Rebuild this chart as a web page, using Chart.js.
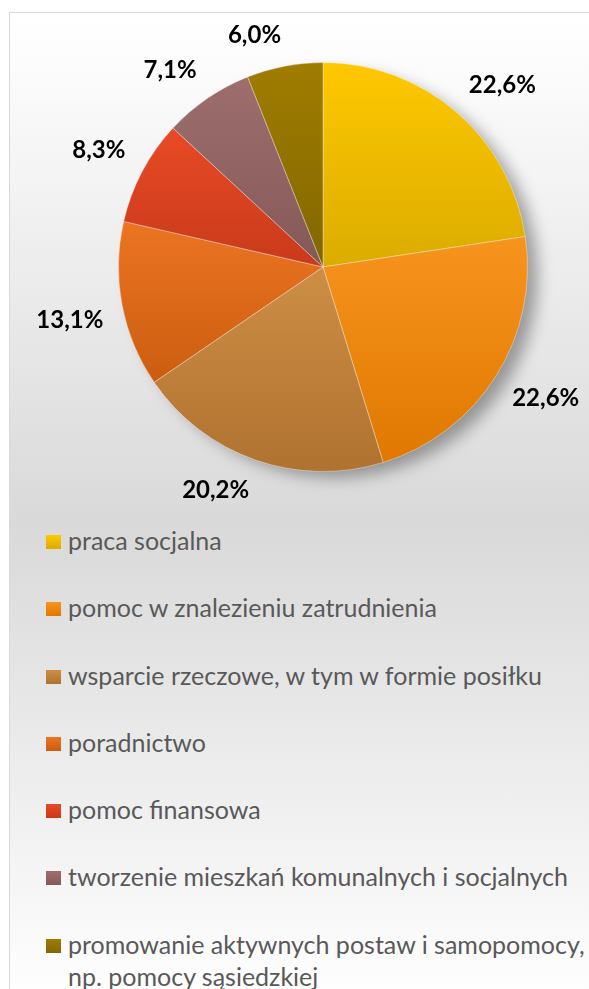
<!DOCTYPE html>
<html>
<head>
<meta charset="utf-8">
<script src="https://cdn.jsdelivr.net/npm/chart.js@4/dist/chart.umd.min.js"></script>
<style>
    html, body { margin: 0; padding: 0; background: #fff; }
    body { width: 589px; height: 989px; position: relative; overflow: hidden; font-family: 'Lato', sans-serif; }
    #frame {
        position: absolute; left: 9px; top: 12px; width: 600px; height: 1000px;
        border-left: 1px solid #d9d9d9; border-top: 1px solid #d9d9d9;
        background: linear-gradient(to bottom, #ffffff 0px, #fdfdfd 40px, #d9d9d9 510px, #ffffff 990px);
    }
    #chart { position: absolute; left: 0; top: 0; }
    #legend { position: absolute; left: 46px; top: 524px; width: 543px; margin: 0; padding: 0; list-style: none; }
    #legend li { position: relative; padding-left: 22px; font-size: 25px; line-height: 32.6px; color: #595959; margin-bottom: 34.7px; }
    #legend .box { position: absolute; left: 0; top: 11px; width: 15px; height: 14px; }
</style>
</head>
<body>
<div id="frame"></div>
<canvas id="chart" width="589" height="520"></canvas>
<ul id="legend"></ul>
<script>
// Data
const categories = [
    'praca socjalna',
    'pomoc w znalezieniu zatrudnienia',
    'wsparcie rzeczowe, w tym w formie posiłku',
    'poradnictwo',
    'pomoc finansowa',
    'tworzenie mieszkań komunalnych i socjalnych',
    'promowanie aktywnych postaw i samopomocy, np. pomocy sąsiedzkiej'
];
const shares = [22.6, 22.6, 20.2, 13.1, 8.3, 7.1, 6.0];
const topColors = ['#ffc800', '#f7941e', '#cd8e45', '#ec7422', '#e84a26', '#9e6e6e', '#a07d00'];
const bottomColors = ['#dbac00', '#e07800', '#b07230', '#cb5d10', '#c93a1a', '#855858', '#826600'];

const formatPercent = (value) => `${value.toFixed(1).replace('.', ',')}%`;

// vertical gradient over each slice's own bounding box
function sliceGradient(context) {
    const i = context.dataIndex;
    const chart = context.chart;
    const area = chart.chartArea;
    if (!area || i === undefined) return topColors[i] || topColors[0];
    const cx = (area.left + area.right) / 2;
    const cy = (area.top + area.bottom) / 2;
    const r = Math.min(area.width, area.height) / 2;
    const total = shares.reduce((a, b) => a + b, 0);
    const before = shares.slice(0, i).reduce((a, b) => a + b, 0);
    const start = -Math.PI / 2 + 2 * Math.PI * before / total;
    const end = start + 2 * Math.PI * shares[i] / total;
    const ys = [cy, cy + r * Math.sin(start), cy + r * Math.sin(end)];
    for (let a = -Math.PI / 2; a <= 3 * Math.PI / 2; a += Math.PI) {
        if (a > start && a < end) ys.push(cy + r * Math.sin(a));
    }
    const y0 = Math.min(...ys), y1 = Math.max(...ys);
    const g = chart.ctx.createLinearGradient(0, y0, 0, y1 + 0.01);
    g.addColorStop(0, topColors[i]);
    g.addColorStop(1, bottomColors[i]);
    return g;
}

// soft shadow behind the pie
const pieShadow = {
    id: 'pieShadow',
    beforeDatasetsDraw(chart) {
        const arc = chart.getDatasetMeta(0).data[0];
        if (!arc) return;
        const c = chart.ctx;
        c.save();
        c.shadowColor = 'rgba(0, 0, 0, 0.35)';
        c.shadowBlur = 16;
        c.shadowOffsetX = 12;
        c.shadowOffsetY = 8;
        c.fillStyle = '#bbb';
        c.beginPath();
        c.arc(arc.x, arc.y, arc.outerRadius - 2, 0, Math.PI * 2);
        c.fill();
        c.restore();
    }
};

// percentage labels outside the slices: the box corner nearest the centre
// sits on the slice bisector, a little beyond the rim
const outsideLabels = {
    id: 'outsideLabels',
    afterDatasetsDraw(chart) {
        const c = chart.ctx;
        const gap = 19;
        const h = 24;
        c.save();
        c.font = 'bold 24px Lato';
        c.fillStyle = '#000';
        c.textAlign = 'center';
        c.textBaseline = 'middle';
        chart.getDatasetMeta(0).data.forEach((arc, i) => {
            const text = formatPercent(shares[i]);
            const w = c.measureText(text).width;
            const mid = (arc.startAngle + arc.endAngle) / 2;
            const dx = Math.cos(mid), dy = Math.sin(mid);
            const px = arc.x + dx * (arc.outerRadius + gap);
            const py = arc.y + dy * (arc.outerRadius + gap);
            c.fillText(text, px + Math.sign(dx) * w / 2, py + Math.sign(dy) * h / 2);
        });
        c.restore();
    }
};

new Chart(document.getElementById('chart').getContext('2d'), {
    type: 'pie',
    data: {
        labels: categories,
        datasets: [{
            data: shares,
            backgroundColor: sliceGradient,
            borderColor: 'rgba(255, 255, 255, 0.35)',
            borderWidth: 1
        }]
    },
    options: {
        responsive: false,
        animation: false,
        layout: { padding: { left: 118, right: 61, top: 62, bottom: 48 } },
        plugins: { legend: { display: false }, tooltip: { enabled: false } }
    },
    plugins: [pieShadow, outsideLabels]
});

// Legend
const legend = document.getElementById('legend');
categories.forEach((name, i) => {
    const li = document.createElement('li');
    const box = document.createElement('span');
    box.className = 'box';
    box.style.background = `linear-gradient(${topColors[i]}, ${bottomColors[i]})`;
    li.appendChild(box);
    li.appendChild(document.createTextNode(name));
    legend.appendChild(li);
});
</script>
</body>
</html>
